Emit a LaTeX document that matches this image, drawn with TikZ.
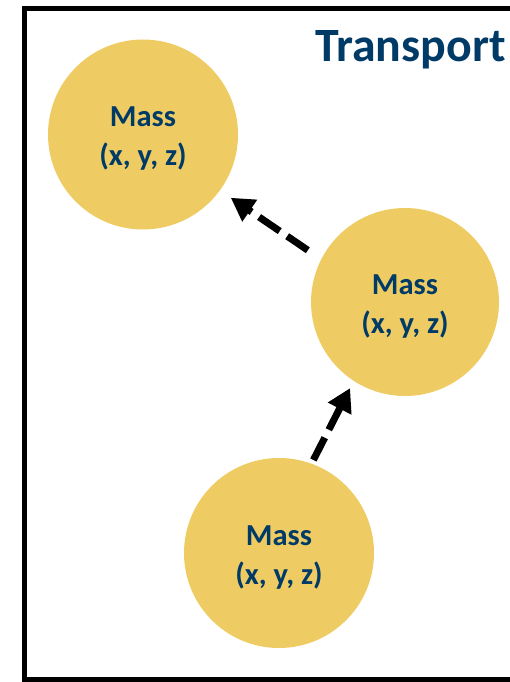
\documentclass[tikz,border=0pt]{standalone}
\usepackage{fontspec}
\setmainfont{Carlito}
\usetikzlibrary{arrows.meta}
\definecolor{massgold}{RGB}{238,204,99}
\definecolor{navy}{RGB}{0,58,102}
\tikzset{
  mass/.style={circle, fill=massgold, draw=none, inner sep=0pt, minimum size=190pt},
  masstext/.style={align=center, text=navy, font=\fontsize{30.5}{39}\selectfont\bfseries},
  move/.style={line width=7pt, dash pattern=on 25pt off 9pt, line cap=butt,
    -{Triangle[length=23pt, width=25pt]}},
}
\begin{document}
\begin{tikzpicture}[x=1pt, y=-1pt]
\useasboundingbox (0,0) rectangle (510,682);
\clip (0,0) rectangle (510,682);
\draw[line width=5pt] (24.5,8.5) rectangle (530,679.5);
\node[anchor=base west, text=navy, font=\fontsize{47.8}{50}\selectfont\bfseries, inner sep=0pt] (title) at (315,62) {Transport};
\node[mass] (top) at (143,134.5) {};
\node[mass, minimum size=188pt] (mid) at (405,302) {};
\node[mass] (bot) at (279,553) {};
\node[masstext] (toplabel) at (143,139) {Mass\\(x, y, z)};
\node[masstext] (midlabel) at (405,307) {Mass\\(x, y, z)};
\node[masstext] (botlabel) at (279,558) {Mass\\(x, y, z)};
\draw[move, shorten <=16pt, shorten >=13pt] (mid.153) -- (top.-36);
\draw[move, shorten <=4pt, shorten >=8pt] (bot.70) -- (mid.237);
\end{tikzpicture}
\end{document}
